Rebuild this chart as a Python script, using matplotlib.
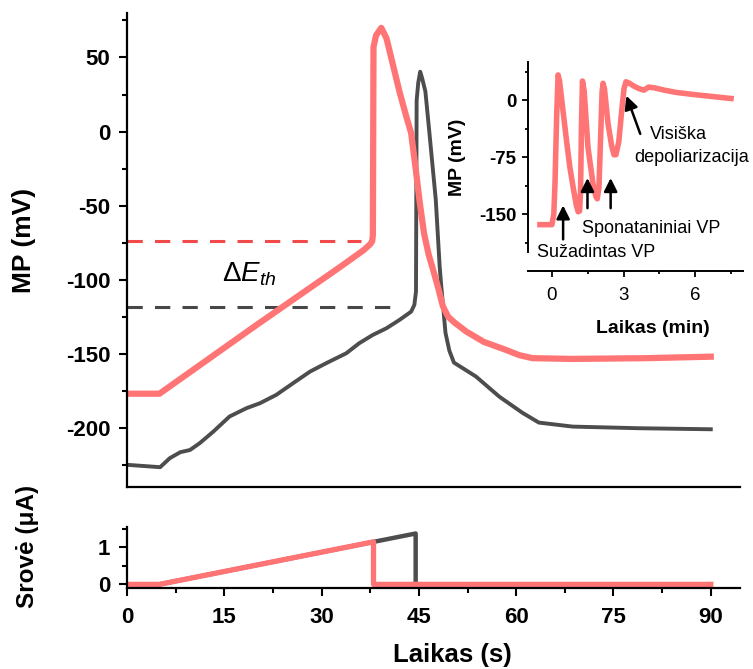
import matplotlib
matplotlib.use("Agg")
import matplotlib.pyplot as plt
from matplotlib.ticker import MultipleLocator

plt.rcParams['font.family'] = ['Liberation Sans', 'DejaVu Sans']
plt.rcParams['mathtext.fontset'] = 'custom'
plt.rcParams['mathtext.rm'] = 'Liberation Sans'
plt.rcParams['mathtext.it'] = 'Liberation Sans:italic'
plt.rcParams['mathtext.bf'] = 'Liberation Sans:bold'
plt.rcParams['axes.unicode_minus'] = False

RED = '#FF7575'
RED_DASH = '#F24A4A'
GREY = '#4D4D4D'

# membrane potential, ramp stimulation (s, mV)
red_t = [0, 5, 20, 32.8, 36.5, 37.5, 37.8, 37.9, 38.0, 38.4, 39.2, 40.0, 41.0, 42.0,
         43.0, 43.8, 44.5, 45.1, 45.8, 46.5, 47.1, 48.0, 48.7, 49.5, 50.5, 52.3,
         55.0, 58.4, 60.5, 62.5, 68.6, 80, 90]
red_v = [-177, -177, -130.5, -91.6, -80, -76, -74, -70, 57, 65, 70, 63, 45, 27,
         11, -1, -25, -47, -69, -83, -92, -106, -118, -125, -129, -135,
         -142, -147.4, -151, -153, -153.5, -153, -152]

black_t = [0, 5.1, 6.6, 8.2, 9.7, 11.2, 13.3, 15.8, 18.4, 20.5, 23.0, 25.6, 28.2,
           30.7, 33.8, 35.8, 37.9, 40.0, 42.0, 43.8, 44.3, 44.55, 44.65, 44.9, 45.2,
           45.5, 46.0, 46.6, 47.6, 48.2, 48.4, 49.1, 49.7, 50.4, 53.8, 57.4, 61.0,
           63.5, 68.7, 78.9, 90]
black_v = [-225, -226.6, -220.5, -216.5, -215, -210.4, -202.6, -192.4, -186.8,
           -183.4, -177.8, -169.9, -162.1, -156.4, -149.7, -142.9, -137.3, -132.8,
           -127.2, -121.6, -117, -108, 21, 33, 40.4, 36, 27, 0, -46, -91, -102,
           -136, -148, -156, -165.4, -179, -190, -196.5, -199.2, -200.3, -201]

# threshold levels
thr_red = -73.6
thr_red_end = 36.1
thr_black = -118.6
thr_black_end = 42.2

# stimulation current (s, uA)
cur_red_t = [0, 5, 38, 38, 90]
cur_red_i = [0, 0, 1.15, 0, 0]
cur_black_t = [0, 5, 44.5, 44.5]
cur_black_i = [0, 0, 1.375, 0]

# long recording (min, mV)
ins_t = [-0.5, 0, 0.08, 0.13, 0.2, 0.26, 0.32, 0.45, 0.61, 0.75, 0.89, 1.02, 1.1, 1.16,
         1.2, 1.24, 1.28, 1.35, 1.51, 1.72, 1.84, 1.9, 1.97, 2.05, 2.1, 2.14, 2.2,
         2.35, 2.5, 2.6, 2.68, 2.8, 2.92, 3.02, 3.1, 3.25, 3.45, 3.65, 3.85, 4.05,
         4.3, 4.7, 5.2, 6.0, 6.6, 7.5]
ins_v = [-164, -164, -150, -110, -20, 33, 25, -10, -53, -88, -115, -138, -147, -146,
         -120, -30, 25, 12, -62, -110, -127, -130, -115, -40, 10, 22, 15,
         -31, -60, -72, -72, -55, -15, 15, 24, 22, 18, 15, 13, 17,
         16, 13, 10, 7, 5, 2]

fig = plt.figure(figsize=(7.53, 6.69), dpi=100)

tick_kw = dict(direction='out', width=1.5, labelsize=16)

# main panel
ax = fig.add_axes([0.1687, 0.272, 0.8140, 0.7085])
ax.plot([0, thr_red_end], [thr_red, thr_red], ls=(0, (5, 4)), color=RED_DASH, lw=2.2)
ax.plot([0, thr_black_end], [thr_black, thr_black], ls=(0, (5, 4)), color='#474747', lw=2.2)
ax.plot(black_t, black_v, color=GREY, lw=2.8, solid_joinstyle='round')
ax.plot(red_t, red_v, color=RED, lw=4.5, solid_joinstyle='round')
ax.text(14.6, -101.5, r'$\Delta E_{th}$', fontsize=20, ha='left', va='baseline')
ax.set_xlim(0, 94.5)
ax.set_ylim(-240, 80)
ax.yaxis.set_major_locator(MultipleLocator(50))
ax.yaxis.set_minor_locator(MultipleLocator(25))
ax.tick_params(axis='y', which='major', length=6, pad=6, **tick_kw)
ax.tick_params(axis='y', which='minor', length=3.5, width=1.5, direction='out')
for lab in ax.get_yticklabels():
    lab.set_fontweight('bold')
ax.set_xticks([])
for s in ('top', 'right'):
    ax.spines[s].set_visible(False)
for s in ('left', 'bottom'):
    ax.spines[s].set_linewidth(1.6)
ax.set_ylabel('MP (mV)', fontsize=19, fontweight='bold')
ax.yaxis.set_label_coords(-0.168, 0.52)
ax.yaxis.label.set_va('center')

# current panel
axc = fig.add_axes([0.1687, 0.121, 0.8140, 0.0912])
axc.plot(cur_black_t, cur_black_i, color=GREY, lw=3.2)
axc.plot(cur_red_t, cur_red_i, color=RED, lw=3.8)
axc.set_xlim(0, 94.5)
axc.set_ylim(-0.1, 1.55)
axc.xaxis.set_major_locator(MultipleLocator(15))
axc.xaxis.set_minor_locator(MultipleLocator(7.5))
axc.yaxis.set_major_locator(MultipleLocator(1))
axc.yaxis.set_minor_locator(MultipleLocator(0.5))
axc.tick_params(axis='x', which='major', length=6, pad=8, **tick_kw)
axc.tick_params(axis='y', which='major', length=6, pad=6, **tick_kw)
axc.tick_params(which='minor', length=3.5, width=1.5, direction='out')
for lab in axc.get_xticklabels() + axc.get_yticklabels():
    lab.set_fontweight('bold')
for s in ('top', 'right'):
    axc.spines[s].set_visible(False)
for s in ('left', 'bottom'):
    axc.spines[s].set_linewidth(1.6)
axc.set_ylabel('Srovė (μA)', fontsize=17.5, fontweight='bold')
axc.yaxis.set_label_coords(-0.163, 0.68)
axc.yaxis.label.set_va('center')
axc.set_xlabel('Laikas (s)', fontsize=18.5, fontweight='bold')
axc.xaxis.set_label_coords(0.53, -1.1)
axc.xaxis.label.set_va('center')

# inset with the long recording
axi = fig.add_axes([0.7012, 0.6233, 0.2855, 0.2840])
axi.plot(ins_t, ins_v, color=RED, lw=4, solid_joinstyle='round')
axi.set_xlim(-1, 8)
axi.set_ylim(-200, 50)
axi.xaxis.set_major_locator(MultipleLocator(3))
axi.xaxis.set_minor_locator(MultipleLocator(1.5))
axi.yaxis.set_major_locator(MultipleLocator(75))
axi.yaxis.set_minor_locator(MultipleLocator(37.5))
axi.tick_params(axis='x', which='major', length=4.5, pad=7, direction='out',
                width=1.3, labelsize=13.5)
axi.tick_params(axis='y', which='major', length=4.5, pad=4, direction='out',
                width=1.3, labelsize=13.5)
axi.tick_params(which='minor', length=2.5, width=1.3, direction='out')
for lab in axi.get_xticklabels() + axi.get_yticklabels():
    lab.set_fontweight('bold')
for s in ('top', 'right'):
    axi.spines[s].set_visible(False)
for s in ('left', 'bottom'):
    axi.spines[s].set_linewidth(1.4)
axi.spines['bottom'].set_position(('outward', 14))
axi.patch.set_alpha(0)
axi.set_xlabel('Laikas (min)', fontsize=14, fontweight='bold')
axi.xaxis.set_label_coords(0.58, -0.40)
axi.xaxis.label.set_va('center')
axi.set_ylabel('MP (mV)', fontsize=14, fontweight='bold')
axi.yaxis.set_label_coords(-0.326, 0.5)
axi.yaxis.label.set_va('center')

arrow = dict(arrowstyle='-|>', color='black', lw=1.8, mutation_scale=20)
axi.annotate('', xy=(0.47, -135), xytext=(0.47, -187), arrowprops=arrow)
axi.annotate('', xy=(1.49, -99), xytext=(1.49, -146), arrowprops=arrow)
axi.annotate('', xy=(2.46, -99), xytext=(2.46, -146), arrowprops=arrow)
axi.annotate('', xy=(3.08, 9), xytext=(3.74, -48), arrowprops=arrow)
axi.text(5.29, -46, 'Visiška', fontsize=13, ha='center', va='center')
axi.text(5.83, -75, 'depoliarizacija', fontsize=13, ha='center', va='center')
axi.text(4.15, -169, 'Sponataniniai VP', fontsize=13, ha='center', va='center')
axi.text(1.86, -201, 'Sužadintas VP', fontsize=13, ha='center', va='center')

fig.savefig('out.png', dpi=100)
